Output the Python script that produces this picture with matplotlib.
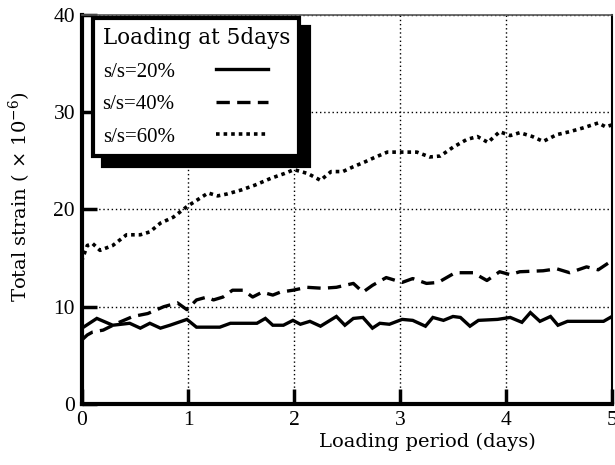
import matplotlib.pyplot as plt

# values
days_20 = [0.0, 0.14, 0.29, 0.45, 0.55, 0.64, 0.74, 0.83, 0.99, 1.08, 1.3, 1.4,
           1.65, 1.73, 1.8, 1.9, 1.99, 2.06, 2.15, 2.25, 2.4, 2.48, 2.56, 2.65,
           2.74, 2.81, 2.9, 3.02, 3.12, 3.24, 3.31, 3.41, 3.5, 3.57, 3.66, 3.74,
           3.92, 4.04, 4.15, 4.23, 4.32, 4.42, 4.49, 4.58, 4.76, 4.92, 5.0]
strain_20 = [7.8, 8.8, 8.1, 8.3, 7.8, 8.3, 7.8, 8.1, 8.7, 7.9, 7.9, 8.3,
             8.3, 8.8, 8.1, 8.1, 8.6, 8.2, 8.5, 8.0, 9.0, 8.1, 8.8, 8.9,
             7.8, 8.3, 8.2, 8.7, 8.6, 8.0, 8.9, 8.6, 9.0, 8.9, 8.0, 8.6,
             8.7, 8.9, 8.4, 9.4, 8.5, 9.0, 8.1, 8.5, 8.5, 8.5, 9.0]

days_40 = [0.0, 0.05, 0.1, 0.2, 0.33, 0.48, 0.62, 0.77, 0.9, 0.99, 1.08, 1.18,
           1.24, 1.33, 1.42, 1.52, 1.61, 1.7, 1.8, 1.87, 1.99, 2.12, 2.27,
           2.4, 2.56, 2.65, 2.74, 2.87, 3.02, 3.12, 3.25, 3.36, 3.52, 3.69,
           3.82, 3.94, 4.04, 4.13, 4.35, 4.48, 4.6, 4.76, 4.87, 4.98, 5.0]
strain_40 = [6.6, 7.1, 7.4, 7.6, 8.3, 9.0, 9.3, 10.0, 10.4, 9.7, 10.7, 11.0,
             10.7, 11.0, 11.7, 11.7, 11.0, 11.5, 11.2, 11.5, 11.7, 12.0, 11.9,
             12.0, 12.4, 11.5, 12.2, 13.0, 12.5, 12.9, 12.4, 12.5, 13.5, 13.5,
             12.7, 13.6, 13.3, 13.6, 13.7, 13.9, 13.5, 14.1, 13.8, 14.6, 15.0]

days_60 = [0.0, 0.0, 0.05, 0.1, 0.17, 0.29, 0.42, 0.55, 0.64, 0.74, 0.86, 0.99,
           1.09, 1.19, 1.28, 1.37, 1.5, 1.63, 1.78, 1.91, 2.0, 2.13, 2.25,
           2.35, 2.46, 2.56, 2.67, 2.75, 2.88, 3.0, 3.16, 3.28, 3.38, 3.5,
           3.63, 3.73, 3.83, 3.94, 4.04, 4.13, 4.25, 4.35, 4.48, 4.6, 4.73,
           4.87, 4.94, 5.0]
strain_60 = [13.1, 14.8, 16.3, 16.5, 15.8, 16.3, 17.4, 17.4, 17.7, 18.6, 19.2,
             20.3, 21.0, 21.7, 21.4, 21.6, 22.0, 22.5, 23.2, 23.7, 24.1, 23.7,
             23.0, 23.9, 23.9, 24.4, 24.9, 25.3, 25.9, 25.9, 25.9, 25.4, 25.5,
             26.4, 27.2, 27.5, 26.9, 28.0, 27.6, 27.9, 27.5, 27.0, 27.7, 28.0,
             28.4, 28.9, 28.5, 28.7]

labels = ["s/s=20%", "s/s=40%", "s/s=60%"]

plt.rcParams["font.family"] = "Liberation Serif"
plt.rcParams["mathtext.fontset"] = "dejavuserif"

fig = plt.figure(figsize=(6.15, 4.65), dpi=100)
ax = fig.add_axes([82 / 615, 1 - 404 / 465, 530 / 615, 389 / 465])

ax.plot(days_20, strain_20, color="black", lw=2.4, label=labels[0],
        solid_joinstyle="miter")
ax.plot(days_40, strain_40, color="black", lw=2.4, label=labels[1],
        dashes=(4.0, 2.2))
ax.plot(days_60, strain_60, color="black", lw=2.6, label=labels[2],
        dashes=(1.0, 1.1))

ax.set_xlim(0, 5)
ax.set_ylim(0, 40)
ax.set_xticks(range(0, 6))
ax.set_yticks(range(0, 41, 10))
ax.grid(True, color="black", linestyle=(0, (1, 2)), lw=1.0)
ax.tick_params(direction="in", length=11, width=2.5, labelsize=15.5, pad=5,
               colors="black")

for side in ["left", "bottom"]:
    ax.spines[side].set_linewidth(3)
ax.spines["right"].set_linewidth(1.5)
ax.spines["top"].set_linewidth(1.2)
ax.spines["top"].set_color("#555555")

ax.set_xlabel("Loading period (days)", fontsize=14, family="DejaVu Serif")
ax.xaxis.set_label_coords(0.652, -0.075)
ax.set_ylabel(r"Total strain ( $\times$ 10$^{-6}$)", fontsize=14,
              family="DejaVu Serif")
ax.yaxis.set_label_coords(-0.092, 0.532)

leg = ax.legend(loc="upper left", bbox_to_anchor=(0.021, 0.993),
                borderaxespad=0, markerfirst=False, fontsize=15,
                title="Loading at 5days",
                title_fontproperties={"family": "DejaVu Serif", "size": 15.5},
                fancybox=False, framealpha=1, edgecolor="black",
                handlelength=2.5, handletextpad=2.0, labelspacing=0.62,
                borderpad=0.45,
                shadow={"ox": 7, "oy": -7, "facecolor": "black",
                        "edgecolor": "black", "alpha": 1})
leg.get_frame().set_linewidth(3)
leg._legend_box.align = "left"

fig.savefig("out.png", dpi=100)
